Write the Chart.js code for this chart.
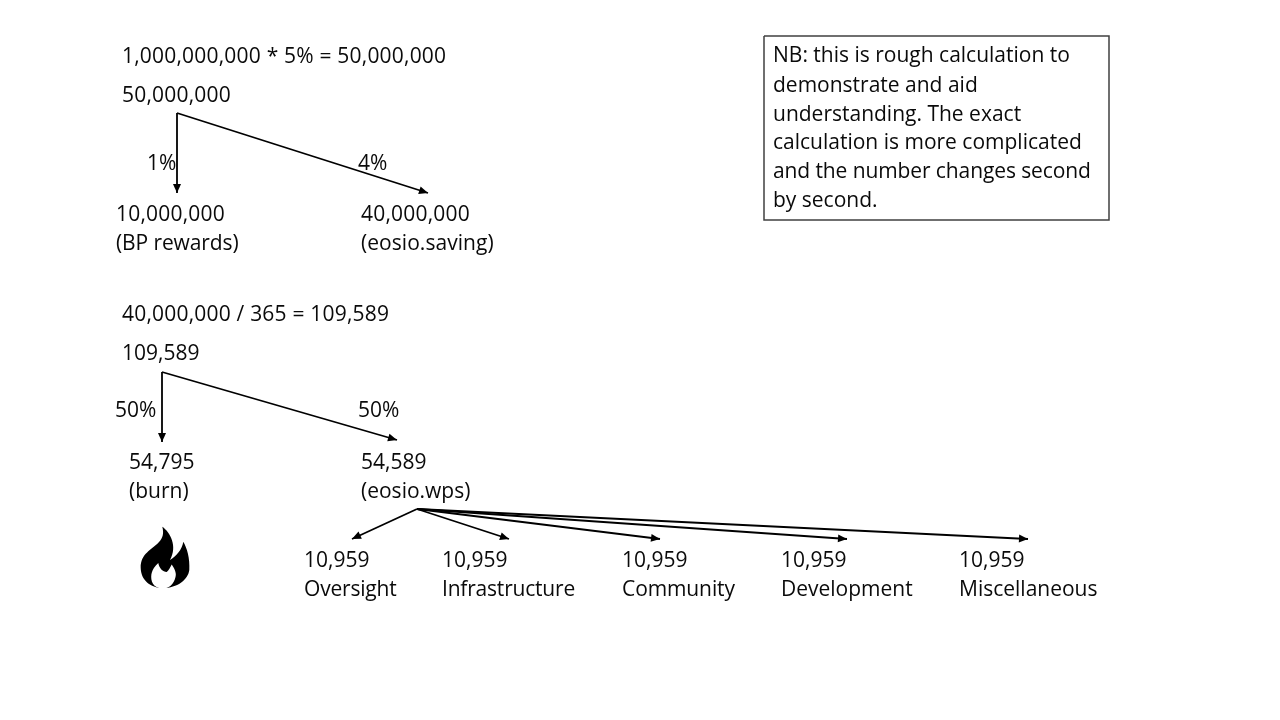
<!DOCTYPE html>
<html>
<head>
<meta charset="utf-8">
<title>EOS inflation</title>
<style>
html, body { margin: 0; padding: 0; background: #fff; }
#wrap { width: 1280px; height: 720px; }
</style>
<script src="https://cdn.jsdelivr.net/npm/chart.js@4"></script>
</head>
<body>
<div id="wrap"><canvas id="myChart" width="1280" height="720"></canvas></div>
<script>
// diagram text: [text, x, baseline y]
const labelTexts = [
    "1,000,000,000 * 5% = 50,000,000", "50,000,000", "1%", "4%",
    "10,000,000", "(BP rewards)", "40,000,000", "(eosio.saving)",
    "40,000,000 / 365 = 109,589", "109,589", "50%", "50%",
    "54,795", "(burn)", "54,589", "(eosio.wps)",
    "10,959", "Oversight", "10,959", "Infrastructure", "10,959", "Community",
    "10,959", "Development", "10,959", "Miscellaneous",
    "NB: this is rough calculation to", "demonstrate and aid",
    "understanding. The exact", "calculation is more complicated",
    "and the number changes second", "by second."
];
const labelX = [
    122, 122, 147, 358,
    116, 116, 361, 361,
    122, 122, 115, 358,
    129, 129, 361, 361,
    304, 304, 442, 442, 622, 622,
    781, 781, 959, 959,
    773, 773, 773, 773, 773, 773
];
const labelY = [
    63, 102, 170, 170,
    221, 250, 221, 250,
    321, 360, 417, 417,
    469, 498, 469, 498,
    567, 596, 567, 596, 567, 596,
    567, 596, 567, 596,
    62, 92, 121, 149, 178, 207
];
// letter spacing per line, px
const labelSpacing = [
    0.2, 0.2, 0, 0,
    0.2, -0.1, 0.2, 0.05,
    0.2, 0, 0, 0,
    0, 0, 0, 0,
    0, -0.2, 0, -0.2, 0, -0.1,
    0, 0, 0, 0,
    0, 0, 0, 0, -0.1, 0
];

// arrows: start and end
const arrowStartX = [177, 177, 162, 162, 417, 417, 417, 417, 417];
const arrowStartY = [113, 113, 372, 372, 509, 509, 509, 509, 509];
const arrowEndX = [177, 428, 162, 397, 352, 509, 660, 847, 1028];
const arrowEndY = [193, 193, 442, 440, 539, 539, 539, 539, 539];

// note box corners
const boxX = [764, 1109, 1109, 764, 764];
const boxY = [36, 36, 220, 220, 36];

// flame outline, bezier segments: c1x, c1y, c2x, c2y, x, y
const flameStart = [162.3, 526.7];
const flameOuter = [
    [170, 532, 178, 546, 170, 560],
    [176, 556, 182, 550, 183.3, 541.7],
    [187, 548, 190, 558, 189.3, 570],
    [188, 580, 177, 588, 163.3, 588],
    [150, 588, 141, 580, 140.7, 568],
    [140.5, 553, 152, 550, 159, 542],
    [163, 538, 164, 533, 162.3, 526.7]
];
const flameInnerStart = [158.3, 563];
const flameInner = [
    [159, 568, 163, 572, 166.7, 572],
    [169, 570, 170, 568, 171.7, 564.5],
    [175.5, 570, 176.5, 574, 175.5, 577],
    [174, 584, 169, 588.5, 163, 588.5],
    [156, 588.5, 151, 584, 151.2, 576.7],
    [151.5, 570, 155, 566, 158.3, 563]
];

const arrowSets = arrowStartX.map(function(x, i) {
    return {
        data: [{x: x, y: arrowStartY[i]}, {x: arrowEndX[i], y: arrowEndY[i]}],
        borderColor: "#000",
        borderWidth: 1.8,
        pointRadius: 0,
        showLine: true,
        tension: 0
    };
});
const boxSet = {
    data: boxX.map(function(x, i) { return {x: x, y: boxY[i]}; }),
    borderColor: "#404040",
    borderWidth: 1.5,
    pointRadius: 0,
    showLine: true,
    tension: 0
};

// arrowheads, text and flame go on top of the datasets
const annotate = {
    id: "annotate",
    afterDatasetsDraw: function(chart) {
        const ctx = chart.ctx;
        const sx = chart.scales.x;
        const sy = chart.scales.y;
        ctx.save();

        ctx.fillStyle = "#000";
        arrowEndX.forEach(function(x, i) {
            const px = sx.getPixelForValue(x);
            const py = sy.getPixelForValue(arrowEndY[i]);
            const a = Math.atan2(py - sy.getPixelForValue(arrowStartY[i]), px - sx.getPixelForValue(arrowStartX[i]));
            ctx.save();
            ctx.translate(px, py);
            ctx.rotate(a);
            ctx.beginPath();
            ctx.moveTo(0, 0);
            ctx.lineTo(-9, -4);
            ctx.lineTo(-9, 4);
            ctx.closePath();
            ctx.fill();
            ctx.restore();
        });

        const trace = function(start, segs) {
            ctx.moveTo(sx.getPixelForValue(start[0]), sy.getPixelForValue(start[1]));
            segs.forEach(function(s) {
                ctx.bezierCurveTo(sx.getPixelForValue(s[0]), sy.getPixelForValue(s[1]),
                    sx.getPixelForValue(s[2]), sy.getPixelForValue(s[3]),
                    sx.getPixelForValue(s[4]), sy.getPixelForValue(s[5]));
            });
            ctx.closePath();
        };
        ctx.beginPath();
        trace(flameStart, flameOuter);
        ctx.fillStyle = "#000";
        ctx.fill();
        ctx.beginPath();
        trace(flameInnerStart, flameInner);
        ctx.fillStyle = "#fff";
        ctx.fill();

        ctx.fillStyle = "#0a0a0a";
        ctx.font = '21px "Open Sans"';
        ctx.textAlign = "left";
        ctx.textBaseline = "alphabetic";
        labelTexts.forEach(function(t, i) {
            ctx.letterSpacing = labelSpacing[i] + "px";
            ctx.fillText(t, sx.getPixelForValue(labelX[i]), sy.getPixelForValue(labelY[i]));
        });
        ctx.restore();
    }
};

const config = {
    type: "scatter",
    data: { datasets: arrowSets.concat([boxSet]) },
    plugins: [annotate],
    options: {
        responsive: false,
        animation: false,
        layout: { padding: 0 },
        plugins: {
            legend: { display: false },
            title: { display: false },
            tooltip: { enabled: false }
        },
        scales: {
            x: { type: "linear", min: 0, max: 1280, display: false },
            y: { type: "linear", min: 0, max: 720, reverse: true, display: false }
        }
    }
};

const myChart = new Chart(document.getElementById("myChart"), config);
</script>
</body>
</html>
